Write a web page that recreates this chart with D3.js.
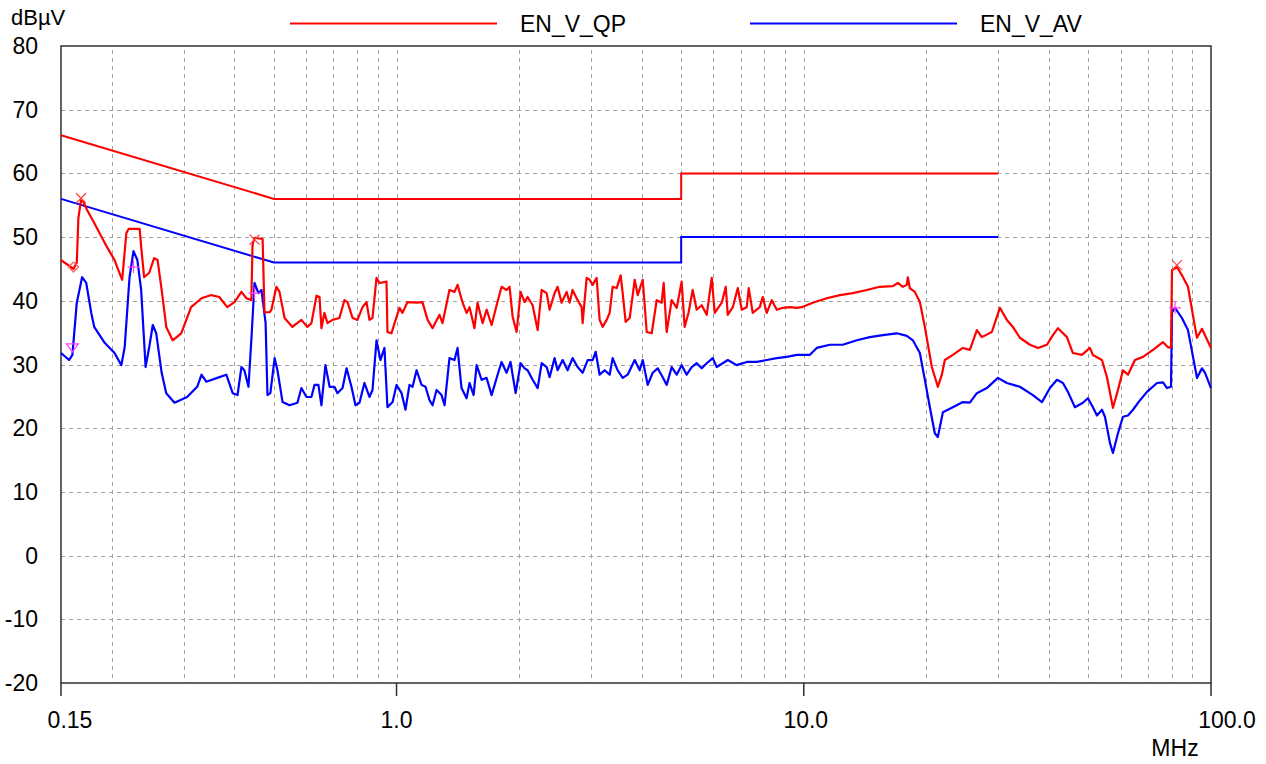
<!DOCTYPE html>
<html>
<head>
<meta charset="utf-8">
<script src="https://cdnjs.cloudflare.com/ajax/libs/d3/7.8.5/d3.min.js"></script>
<style>
body { margin: 0; background: #fff; }
text { font-family: "Liberation Sans", Arial, sans-serif; fill: #000; }
</style>
</head>
<body>
<svg width="1266" height="764"></svg>
<script>
// limit lines (MHz / dBuV)
var limitFreq = [0.15, 0.5, 5, 5, 30];
var qpLimit = [66, 56, 56, 60, 60];
var avLimit = [56, 46, 46, 50, 50];

// quasi-peak trace
var qpFreq = [0.150,0.157,0.161,0.164,0.1655,0.168,0.170,0.174,0.181,0.192,
    0.203,0.212,0.217,0.220,0.234,0.236,0.240,0.247,0.254,0.259,
    0.265,0.272,0.282,0.296,0.313,0.332,0.351,0.367,0.384,0.400,
    0.416,0.428,0.440,0.443,0.448,0.469,0.474,0.488,0.493,0.507,
    0.516,0.531,0.555,0.584,0.604,0.618,0.636,0.647,0.654,0.665,
    0.677,0.696,0.724,0.745,0.758,0.780,0.802,0.825,0.844,0.858,
    0.873,0.893,0.908,0.945,0.950,0.972,0.989,1.017,1.034,1.064,
    1.120,1.158,1.192,1.226,1.275,1.297,1.349,1.388,1.412,1.453,
    1.486,1.511,1.554,1.581,1.627,1.664,1.712,1.761,1.811,1.863,
    1.895,1.928,1.972,2.017,2.063,2.098,2.159,2.221,2.272,2.337,
    2.376,2.444,2.486,2.543,2.616,2.661,2.706,2.784,2.848,2.864,
    2.930,2.980,3.031,3.100,3.153,3.207,3.281,3.337,3.394,3.472,
    3.551,3.592,3.653,3.737,3.845,3.911,4.023,4.115,4.233,4.354,
    4.479,4.529,4.607,4.739,4.875,5.013,5.099,5.216,5.336,5.459,
    5.616,5.777,5.943,6.045,6.290,6.434,6.507,6.694,6.886,7.044,
    7.244,7.326,7.494,7.797,7.930,8.112,8.345,8.585,8.880,9.240,
    9.612,9.888,10.52,11.39,12.26,13.20,14.28,15.37,16.55,17.02,
    17.51,17.91,18.01,18.21,18.74,19.28,19.83,20.63,21.34,21.83,
    22.20,23.23,24.59,25.58,26.61,27.37,28.96,30.31,31.53,32.62,
    33.94,35.93,37.59,39.55,40.91,42.09,44.28,45.81,48.19,50.43,
    51.29,53.98,55.53,57.44,59.09,60.79,62.53,65.06,68.07,72.03,
    76.23,78.42,79.76,80.21,82.51,84.85,87.79,91.34,92.38,95.04,
    96.67,100];
var qpLevel = [46.4,45.5,45.0,46.0,53.0,55.8,55.6,54.2,52.2,49.1,
    46.4,43.3,50.6,51.3,51.3,48.5,43.7,44.4,46.7,46.4,
    41.7,35.9,33.8,34.9,39.0,40.4,40.9,40.6,39.0,39.8,
    41.4,40.4,40.1,48.8,49.9,49.7,38.2,38.2,38.6,42.2,
    41.4,37.3,35.9,37.0,35.9,36.5,40.8,40.6,35.7,38.1,
    36.5,37.0,37.3,40.1,39.8,37.3,37.0,39.0,39.8,37.0,
    37.3,43.6,42.8,43.0,35.1,34.9,36.5,38.9,38.1,39.8,
    39.7,39.8,37.0,35.7,37.8,36.5,41.7,41.4,42.5,39.7,
    38.1,39.0,35.7,39.7,36.5,38.6,36.2,39.3,42.2,41.7,
    42.2,37.5,35.1,41.4,39.8,40.6,39.3,35.4,41.7,41.2,
    38.6,41.2,42.2,39.7,41.4,39.7,41.7,40.1,39.0,36.5,
    43.6,43.3,42.5,43.6,37.0,35.9,37.0,38.1,42.2,42.0,
    44.0,41.2,36.7,37.3,43.3,40.9,43.3,35.1,34.9,40.1,
    39.7,42.8,35.1,40.1,38.9,43.0,35.9,38.2,41.7,38.6,
    39.3,37.8,43.6,38.1,39.7,42.2,37.8,39.0,42.0,38.6,
    39.0,42.0,38.1,39.0,40.6,38.1,40.1,38.6,38.9,39.0,
    38.9,39.0,39.7,40.4,40.9,41.2,41.7,42.2,42.3,42.8,
    42.2,42.5,43.7,42.0,41.4,39.8,35.9,29.6,26.5,28.4,
    30.7,31.5,32.6,32.3,35.4,34.3,35.1,38.9,37.0,35.9,
    34.2,33.1,32.6,33.1,34.6,35.7,34.3,31.8,31.5,32.6,
    31.5,30.7,28.0,23.2,26.0,29.1,28.4,30.7,31.2,32.3,
    33.5,32.7,32.7,44.8,45.3,44.0,42.2,35.9,34.2,35.6,
    34.6,32.6];

// average trace
var avFreq = [0.150,0.157,0.160,0.164,0.169,0.173,0.178,0.181,0.192,0.203,
    0.211,0.215,0.221,0.226,0.231,0.236,0.242,0.247,0.252,0.257,
    0.265,0.272,0.285,0.306,0.324,0.332,0.341,0.363,0.382,0.396,
    0.407,0.416,0.423,0.433,0.440,0.448,0.458,0.466,0.477,0.482,
    0.490,0.502,0.510,0.525,0.546,0.571,0.584,0.601,0.618,0.629,
    0.643,0.654,0.669,0.685,0.704,0.716,0.737,0.754,0.775,0.793,
    0.811,0.834,0.858,0.873,0.893,0.913,0.934,0.950,0.978,1.000,
    1.029,1.052,1.076,1.095,1.120,1.152,1.178,1.205,1.226,1.254,
    1.290,1.312,1.349,1.388,1.412,1.444,1.486,1.511,1.546,1.573,
    1.618,1.664,1.712,1.771,1.811,1.863,1.905,1.961,2.017,2.063,
    2.098,2.159,2.221,2.272,2.337,2.376,2.444,2.486,2.558,2.631,
    2.706,2.784,2.864,2.947,3.031,3.083,3.153,3.244,3.337,3.394,
    3.491,3.592,3.695,3.845,3.955,4.023,4.138,4.256,4.379,4.504,
    4.607,4.739,4.875,5.013,5.158,5.306,5.459,5.616,5.777,5.977,
    6.113,6.324,6.507,6.847,7.244,7.664,8.112,8.585,9.084,9.612,
    9.888,10.34,10.76,11.59,12.47,13.50,14.53,15.64,16.92,17.91,
    18.53,19.28,19.83,20.40,20.98,21.34,21.96,23.23,24.59,25.58,
    26.61,28.16,29.97,31.53,33.94,36.53,38.45,40.23,41.85,43.29,
    44.53,46.33,48.47,49.86,51.29,52.48,53.98,54.90,56.47,57.44,
    59.09,60.79,62.53,64.34,66.94,69.64,73.69,76.23,77.97,79.76,
    80.21,81.57,84.85,87.79,92.38,95.04,96.67,100];
var avLevel = [31.8,30.7,31.5,39.7,43.7,42.8,38.1,35.9,33.4,31.8,
    29.9,32.7,43.7,47.8,46.4,41.7,29.6,32.7,36.2,34.9,
    28.7,25.5,24.0,24.9,26.5,28.4,27.3,27.9,28.4,25.5,
    25.2,29.6,29.1,26.5,33.8,42.8,41.2,41.7,36.5,25.2,
    25.5,31.0,29.1,24.1,23.6,24.0,26.3,24.9,24.9,26.8,
    26.8,23.6,29.9,26.5,26.5,25.5,26.3,29.4,26.5,23.6,
    24.0,27.1,24.9,26.0,33.8,30.7,32.6,23.3,24.1,26.8,
    25.5,22.9,26.8,26.5,29.1,26.8,26.5,24.4,23.6,26.0,
    25.2,23.6,31.0,30.7,32.6,26.3,24.7,27.1,25.2,29.9,
    27.6,27.9,25.2,28.4,30.4,28.7,30.4,25.5,30.2,29.4,
    29.1,27.6,26.3,30.2,29.6,28.0,31.0,29.1,30.7,29.1,
    31.0,29.6,28.7,30.7,30.7,32.0,28.4,29.1,28.4,31.0,
    29.1,27.9,28.4,30.7,29.1,30.7,26.8,28.7,29.4,28.0,
    26.8,29.6,28.4,29.9,28.4,29.6,30.2,29.4,30.2,31.0,
    29.6,30.2,30.7,29.9,30.4,30.4,30.7,31.0,31.2,31.5,
    31.5,31.5,32.6,33.1,33.1,33.8,34.3,34.6,34.9,34.5,
    33.8,31.8,27.6,23.3,19.2,18.6,22.5,23.3,24.1,24.0,
    25.5,26.3,27.9,27.1,26.5,25.2,24.1,26.3,27.6,27.1,
    25.7,23.3,24.0,24.7,23.3,22.0,22.9,21.8,17.7,16.1,
    19.2,21.8,22.0,22.9,24.4,25.7,27.1,27.2,26.3,26.5,
    38.2,38.9,37.3,35.4,27.9,29.4,28.7,26.3];

// markers
var qpPeakFreq = [0.168, 0.448, 82.5];
var qpPeakLevel = [56.1, 49.6, 45.6];
var avPeakFreq = [0.226, 0.448, 81.6];
var avPeakLevel = [45.3, 41.2, 38.9];
var qpMinFreq = [0.161];
var qpMinLevel = [45.3];
var avMinFreq = [0.160];
var avMinLevel = [32.6];

var yTicks = [80, 70, 60, 50, 40, 30, 20, 10, 0, -10, -20];
var xLabels = [0.15, 1, 10, 100];
var xLabelText = ["0.15", "1.0", "10.0", "100.0"];
var legendNames = ["EN_V_QP", "EN_V_AV"];
var legendColors = ["#ff0000", "#0000ff"];

var svg = d3.select("svg");
var plotLeft = 61, plotRight = 1211, plotTop = 46, plotBottom = 683;
var fontSize = "23px";

var x = d3.scaleLog().domain([0.15, 100]).range([plotLeft, plotRight]);
var y = d3.scaleLinear().domain([-20, 80]).range([plotBottom, plotTop]);

function zip(fs, ls) {
    return fs.map(function(f, i) { return [f, ls[i]]; });
}

// minor log grid
var gridFreqs = [];
[0.1, 1, 10].forEach(function(dec) {
    for (var k = 1; k <= 9; k++) {
        var f = dec * k;
        if (f > 0.15 && f < 100) gridFreqs.push(f);
    }
});

var grid = svg.append("g")
    .attr("stroke", "#a0a0a0")
    .attr("stroke-width", 1)
    .attr("stroke-dasharray", "4,4");

grid.selectAll("line.v")
    .data(gridFreqs)
    .enter()
    .append("line")
    .attr("x1", function(d) { return Math.round(x(d)) + 0.5; })
    .attr("x2", function(d) { return Math.round(x(d)) + 0.5; })
    .attr("y1", plotTop + 4)
    .attr("y2", plotBottom);

grid.selectAll("line.h")
    .data(yTicks.slice(1, -1))
    .enter()
    .append("line")
    .attr("x1", plotLeft)
    .attr("x2", plotRight)
    .attr("y1", function(d) { return Math.round(y(d)) + 0.5; })
    .attr("y2", function(d) { return Math.round(y(d)) + 0.5; });

// frame
svg.append("rect")
    .attr("x", plotLeft)
    .attr("y", plotTop)
    .attr("width", plotRight - plotLeft)
    .attr("height", plotBottom - plotTop)
    .attr("fill", "none")
    .attr("stroke", "#303030")
    .attr("stroke-width", 1.5);

// x ticks and labels
svg.append("g")
    .selectAll("line")
    .data(xLabels)
    .enter()
    .append("line")
    .attr("x1", function(d) { return x(d); })
    .attr("x2", function(d) { return x(d); })
    .attr("y1", plotBottom)
    .attr("y2", plotBottom + 13)
    .attr("stroke", "#303030")
    .attr("stroke-width", 1.5);

// end labels are pushed inwards/outwards like the original
var labelShift = [9, 0, 2, 16];

svg.append("g")
    .selectAll("text")
    .data(xLabels)
    .enter()
    .append("text")
    .attr("x", function(d, i) { return x(d) + labelShift[i]; })
    .attr("y", 728)
    .attr("text-anchor", "middle")
    .style("font-size", fontSize)
    .text(function(d, i) { return xLabelText[i]; });

svg.append("g")
    .selectAll("text")
    .data(yTicks)
    .enter()
    .append("text")
    .attr("x", 38)
    .attr("y", function(d) { return y(d) + 8; })
    .attr("text-anchor", "end")
    .style("font-size", fontSize)
    .text(function(d) { return d; });

svg.append("text")
    .attr("x", 11)
    .attr("y", 25)
    .style("font-size", "22px")
    .text("dBµV");

svg.append("text")
    .attr("x", 1175)
    .attr("y", 756)
    .attr("text-anchor", "middle")
    .style("font-size", fontSize)
    .text("MHz");

// legend
var legend = svg.append("g")
    .selectAll("g")
    .data(legendNames)
    .enter()
    .append("g")
    .attr("transform", function(d, i) { return "translate(" + (290 + i * 460) + ",0)"; });

legend.append("line")
    .attr("x1", 0)
    .attr("x2", 207)
    .attr("y1", 23.5)
    .attr("y2", 23.5)
    .attr("stroke", function(d, i) { return legendColors[i]; })
    .attr("stroke-width", 2);

legend.append("text")
    .attr("x", 230)
    .attr("y", 32)
    .style("font-size", fontSize)
    .text(function(d) { return d; });

// traces
var line = d3.line()
    .x(function(d) { return x(d[0]); })
    .y(function(d) { return y(d[1]); });

var plot = svg.append("g");

plot.append("path")
    .datum(zip(limitFreq, qpLimit))
    .attr("d", line)
    .attr("fill", "none")
    .attr("stroke", "#ff0000")
    .attr("stroke-width", 2);

plot.append("path")
    .datum(zip(limitFreq, avLimit))
    .attr("d", line)
    .attr("fill", "none")
    .attr("stroke", "#0000ff")
    .attr("stroke-width", 2);

plot.append("path")
    .datum(zip(avFreq, avLevel))
    .attr("d", line)
    .attr("fill", "none")
    .attr("stroke", "#0000ff")
    .attr("stroke-width", 2.2)
    .attr("stroke-linejoin", "round");

plot.append("path")
    .datum(zip(qpFreq, qpLevel))
    .attr("d", line)
    .attr("fill", "none")
    .attr("stroke", "#ff0000")
    .attr("stroke-width", 2.2)
    .attr("stroke-linejoin", "round");

// markers
var marks = svg.append("g").attr("fill", "none").attr("stroke-width", 1.2);

marks.selectAll("path.qp")
    .data(zip(qpPeakFreq, qpPeakLevel))
    .enter()
    .append("path")
    .attr("stroke", "#ff4040")
    .attr("d", function(d) {
        var cx = x(d[0]), cy = y(d[1]);
        return "M" + (cx - 5) + "," + (cy - 5) + "L" + (cx + 5) + "," + (cy + 5) +
            "M" + (cx - 5) + "," + (cy + 5) + "L" + (cx + 5) + "," + (cy - 5);
    });

marks.selectAll("path.av")
    .data(zip(avPeakFreq, avPeakLevel))
    .enter()
    .append("path")
    .attr("stroke", "#ff40ff")
    .attr("d", function(d) {
        var cx = x(d[0]), cy = y(d[1]);
        return "M" + (cx - 6) + "," + cy + "L" + (cx + 6) + "," + cy +
            "M" + cx + "," + (cy - 6) + "L" + cx + "," + (cy + 6);
    });

marks.selectAll("path.qpmin")
    .data(zip(qpMinFreq, qpMinLevel))
    .enter()
    .append("path")
    .attr("stroke", "#ff6060")
    .attr("d", function(d) {
        var cx = x(d[0]), cy = y(d[1]);
        return "M" + (cx - 5) + "," + cy + "L" + cx + "," + (cy - 5) + "L" + (cx + 5) + "," + cy +
            "L" + cx + "," + (cy + 5) + "Z";
    });

marks.selectAll("path.avmin")
    .data(zip(avMinFreq, avMinLevel))
    .enter()
    .append("path")
    .attr("stroke", "#ff40ff")
    .attr("d", function(d) {
        var cx = x(d[0]), cy = y(d[1]);
        return "M" + (cx - 6) + "," + (cy - 4) + "L" + (cx + 6) + "," + (cy - 4) +
            "L" + cx + "," + (cy + 4) + "Z";
    });
</script>
</body>
</html>
